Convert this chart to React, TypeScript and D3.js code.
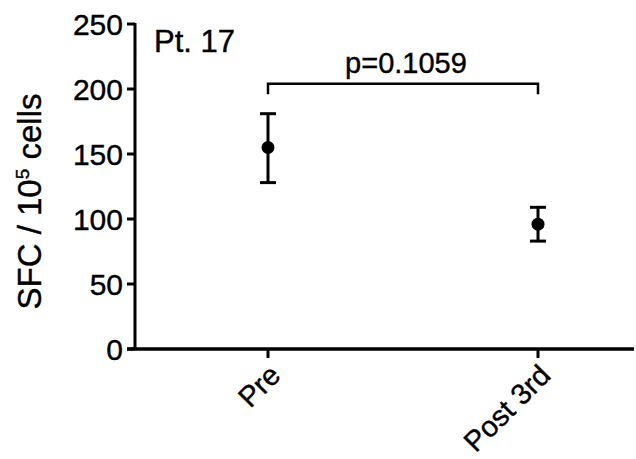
import React from 'react';
import * as d3 from 'd3';

const groups = ['Pre', 'Post 3rd'];
const means = [155, 96];
const upper = [181, 109];
const lower = [128, 83];
const yTicks = [0, 50, 100, 150, 200, 250];
const pText = 'p=0.1059';
const bracketLevel = 204;
const bracketLeg = 196;

const W = 636;
const H = 459;
const font = '"Liberation Sans", Arial, sans-serif';
// slight outline so the glyphs read as heavy as in the scanned figure
const ink = { fill: '#000', stroke: '#000', strokeWidth: 0.4 };

const App = () => {
  const y = d3.scaleLinear().domain([0, 250]).range([349, 24]);
  const x = d3.scalePoint().domain(groups).range([268, 538]);
  const axisX = 135;
  const axisEnd = 634;

  return (
    <svg width={W} height={H} style={{ position: 'absolute', left: 0, top: 0, background: '#fff' }}>
      {/* y axis */}
      <line x1={axisX} x2={axisX} y1={y(250) - 1} y2={y(0)} stroke="#000" strokeWidth={3} />
      {yTicks.map(t => (
        <g key={t}>
          <line x1={axisX - 8} x2={axisX} y1={y(t)} y2={y(t)} stroke="#000" strokeWidth={3} />
          <text x={axisX - 12} y={y(t)} dy="0.36em" textAnchor="end" fontFamily={font} fontSize={30} {...ink}>{t}</text>
        </g>
      ))}
      {/* x axis */}
      <line x1={axisX - 8} x2={axisEnd} y1={y(0)} y2={y(0)} stroke="#000" strokeWidth={3.5} />
      {groups.map(g => (
        <g key={g}>
          <line x1={x(g)} x2={x(g)} y1={y(0)} y2={y(0) + 9} stroke="#000" strokeWidth={3} />
          <text transform={`translate(${x(g)! + 7},${y(0) + 21}) rotate(-45)`} textAnchor="end" dy="0.35em"
            fontFamily={font} fontSize={29} {...ink}>{g}</text>
        </g>
      ))}
      {/* y label */}
      <text transform={`translate(41,${(y(0) + y(250)) / 2 + 15}) rotate(-90)`} textAnchor="middle"
        fontFamily={font} fontSize={33} {...ink}>
        SFC / 10<tspan dy="-12" fontSize={19}>5</tspan><tspan dy="12"> cells</tspan>
      </text>
      {/* panel label */}
      <text x={154} y={52} fontFamily={font} fontSize={31} {...ink}>Pt. 17</text>
      {/* error bars */}
      {groups.map((g, i) => (
        <g key={g}>
          <line x1={x(g)} x2={x(g)} y1={y(upper[i])} y2={y(lower[i])} stroke="#000" strokeWidth={3} />
          <line x1={x(g)! - 8} x2={x(g)! + 8} y1={y(upper[i])} y2={y(upper[i])} stroke="#000" strokeWidth={3} />
          <line x1={x(g)! - 8} x2={x(g)! + 8} y1={y(lower[i])} y2={y(lower[i])} stroke="#000" strokeWidth={3} />
          <circle cx={x(g)} cy={y(means[i])} r={6.5} fill="#000" />
        </g>
      ))}
      {/* significance bracket */}
      <path
        d={`M${x(groups[0])},${y(bracketLeg)}V${y(bracketLevel)}H${x(groups[1])}V${y(bracketLeg)}`}
        fill="none" stroke="#000" strokeWidth={2.5}
      />
      <text x={(x(groups[0])! + x(groups[1])!) / 2 + 3} y={73} textAnchor="middle" fontFamily={font} fontSize={29} {...ink}>{pText}</text>
    </svg>
  );
};

export default App;
